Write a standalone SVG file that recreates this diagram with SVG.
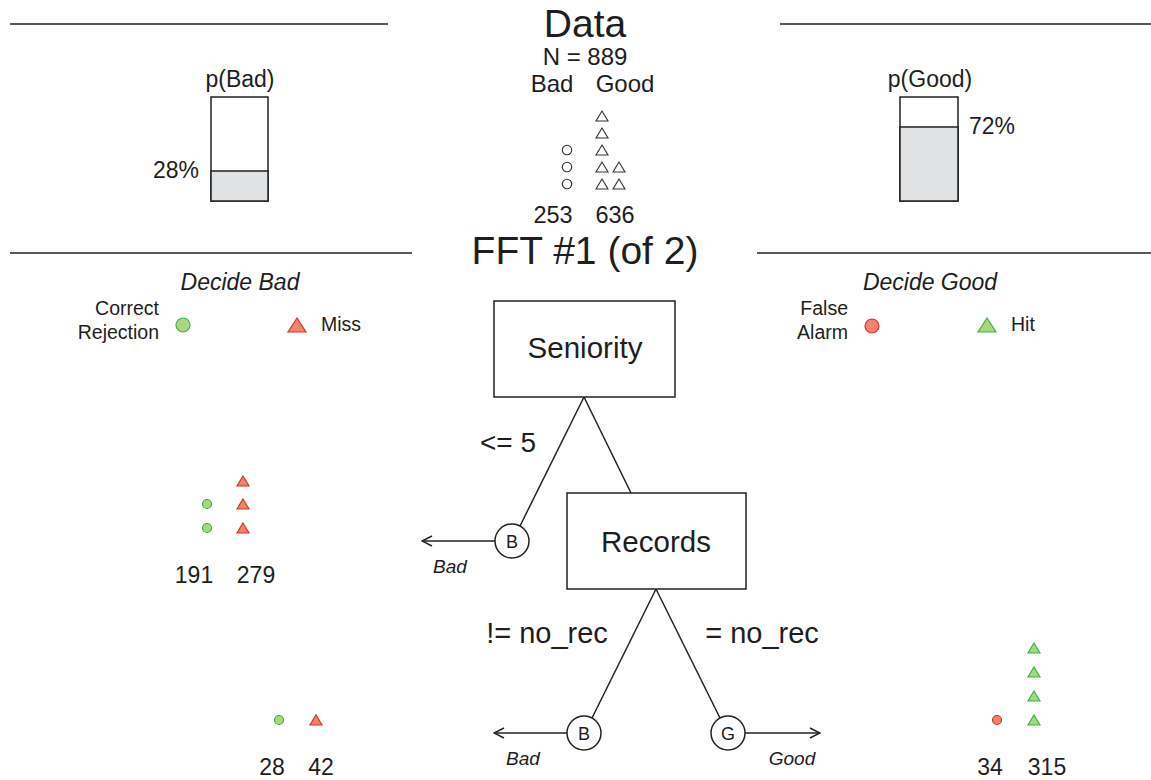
<svg xmlns="http://www.w3.org/2000/svg" width="1151" height="780" viewBox="0 0 1151 780">
<defs>
<style>
text{font-family:"Liberation Sans",Arial,sans-serif;fill:#1e1e1e}
.c{text-anchor:middle}
.r{text-anchor:end}
.it{font-style:italic}
.ln{stroke:#222;stroke-width:1.5;fill:none}
.box{fill:#fff;stroke:#222;stroke-width:1.5}
.oc{fill:#fff;stroke:#333;stroke-width:1.1}
.gc{fill:#a9d77f;stroke:#3fb24b;stroke-width:1.2}
.rc{fill:#f4826f;stroke:#c83a2c;stroke-width:1.2}
</style>
<marker id="ah" viewBox="0 0 12 12" refX="11" refY="6" markerWidth="12" markerHeight="12" markerUnits="userSpaceOnUse" orient="auto">
<path d="M1,1 L11,6 L1,11" fill="none" stroke="#222" stroke-width="1.5"/>
</marker>
<path id="tri" d="M0,-5 L6,5 L-6,5 Z"/>
<path id="tbig" d="M0,-8 L9,6 L-9,6 Z"/>
</defs>
<rect width="1151" height="780" fill="#fff"/>

<g id="header">
<line class="ln" x1="10" y1="24" x2="388" y2="24"/>
<line class="ln" x1="780" y1="24" x2="1151" y2="24"/>
<line class="ln" x1="10" y1="253" x2="412" y2="253"/>
<line class="ln" x1="757" y1="253" x2="1151" y2="253"/>
<text class="c" x="585" y="37" font-size="39">Data</text>
<text class="c" x="585" y="65" font-size="24">N = 889</text>
<text class="c" x="552" y="92" font-size="24">Bad</text>
<text class="c" x="625" y="92" font-size="24">Good</text>
<text class="c" x="553" y="223" font-size="23.5">253</text>
<text class="c" x="615" y="223" font-size="23.5">636</text>
<text class="c" x="585" y="264" font-size="39">FFT #1 (of 2)</text>
</g>

<g id="data-icons">
<circle class="oc" cx="567" cy="150" r="4.7"/>
<circle class="oc" cx="567" cy="167" r="4.7"/>
<circle class="oc" cx="567" cy="184" r="4.7"/>
<use href="#tri" class="oc" x="602" y="116"/>
<use href="#tri" class="oc" x="602" y="133"/>
<use href="#tri" class="oc" x="602" y="150"/>
<use href="#tri" class="oc" x="602" y="167"/>
<use href="#tri" class="oc" x="602" y="184"/>
<use href="#tri" class="oc" x="619" y="167"/>
<use href="#tri" class="oc" x="619" y="184"/>
</g>

<g id="p-bad">
<text class="c" x="240" y="87" font-size="23">p(Bad)</text>
<rect x="211" y="97" width="57" height="104" fill="#fff" stroke="#222" stroke-width="1.5"/>
<rect x="211" y="171" width="57" height="30" fill="#e0e1e3" stroke="#222" stroke-width="1.5"/>
<text class="r" x="199" y="178" font-size="23">28%</text>
</g>

<g id="p-good">
<text class="c" x="930" y="87" font-size="23">p(Good)</text>
<rect x="900" y="97" width="58" height="104" fill="#fff" stroke="#222" stroke-width="1.5"/>
<rect x="900" y="127" width="58" height="74" fill="#e0e1e3" stroke="#222" stroke-width="1.5"/>
<text x="969" y="134" font-size="23">72%</text>
</g>

<g id="legend-bad">
<text class="c it" x="240" y="290" font-size="23">Decide Bad</text>
<text class="r" x="159" y="315" font-size="19.5">Correct</text>
<text class="r" x="159" y="339" font-size="19.5">Rejection</text>
<circle class="gc" cx="183" cy="325" r="7"/>
<use href="#tbig" class="rc" x="297" y="326"/>
<text x="321" y="331" font-size="19.5">Miss</text>
</g>

<g id="legend-good">
<text class="c it" x="930" y="290" font-size="23">Decide Good</text>
<text class="r" x="848" y="315" font-size="19.5">False</text>
<text class="r" x="848" y="339" font-size="19.5">Alarm</text>
<circle class="rc" cx="872" cy="326" r="7"/>
<use href="#tbig" class="gc" x="987" y="326"/>
<text x="1011" y="331" font-size="19.5">Hit</text>
</g>

<g id="connectors">
<line class="ln" x1="584" y1="397" x2="520" y2="526"/>
<line class="ln" x1="584" y1="397" x2="631" y2="493"/>
<line class="ln" x1="495" y1="541" x2="422" y2="541" marker-end="url(#ah)"/>
<line class="ln" x1="656" y1="589" x2="592" y2="718"/>
<line class="ln" x1="656" y1="589" x2="720" y2="718"/>
<line class="ln" x1="567" y1="733" x2="494" y2="733" marker-end="url(#ah)"/>
<line class="ln" x1="745" y1="733" x2="820" y2="733" marker-end="url(#ah)"/>
<text class="c" x="508" y="452" font-size="28">&lt;= 5</text>
<text class="c it" x="450" y="573" font-size="19">Bad</text>
<text class="c" x="547" y="643" font-size="29">!= no_rec</text>
<text class="c" x="762" y="643" font-size="29">= no_rec</text>
<text class="c it" x="523" y="765" font-size="19">Bad</text>
<text class="c it" x="792" y="765" font-size="19">Good</text>
</g>

<g id="node-seniority">
<rect class="box" x="494" y="301" width="181" height="96"/>
<text class="c" x="585" y="358" font-size="29.5">Seniority</text>
</g>

<g id="node-records">
<rect class="box" x="567" y="493" width="179" height="96"/>
<text class="c" x="656" y="552" font-size="29.5">Records</text>
</g>

<g id="exit-b1">
<circle class="box" cx="512" cy="541" r="17"/>
<text class="c" x="512" y="548" font-size="18">B</text>
</g>
<g id="exit-b2">
<circle class="box" cx="584" cy="733" r="17"/>
<text class="c" x="584" y="740" font-size="18">B</text>
</g>
<g id="exit-g2">
<circle class="box" cx="728" cy="733" r="17"/>
<text class="c" x="728" y="740" font-size="18">G</text>
</g>

<g id="level1-counts">
<circle class="gc" cx="207" cy="504" r="4.5"/>
<circle class="gc" cx="207" cy="528" r="4.5"/>
<use href="#tri" class="rc" x="243" y="481"/>
<use href="#tri" class="rc" x="243" y="504"/>
<use href="#tri" class="rc" x="243" y="528"/>
<text class="c" x="194" y="583" font-size="23">191</text>
<text class="c" x="256" y="583" font-size="23">279</text>
</g>

<g id="level2-bad-counts">
<circle class="gc" cx="279" cy="720" r="4.5"/>
<use href="#tri" class="rc" x="316" y="720"/>
<text class="c" x="272" y="775" font-size="23">28</text>
<text class="c" x="321" y="775" font-size="23">42</text>
</g>

<g id="level2-good-counts">
<circle class="rc" cx="997" cy="720" r="4.5"/>
<use href="#tri" class="gc" x="1034" y="648"/>
<use href="#tri" class="gc" x="1034" y="672"/>
<use href="#tri" class="gc" x="1034" y="696"/>
<use href="#tri" class="gc" x="1034" y="720"/>
<text class="c" x="990" y="775" font-size="23">34</text>
<text class="c" x="1047" y="775" font-size="23">315</text>
</g>
</svg>
